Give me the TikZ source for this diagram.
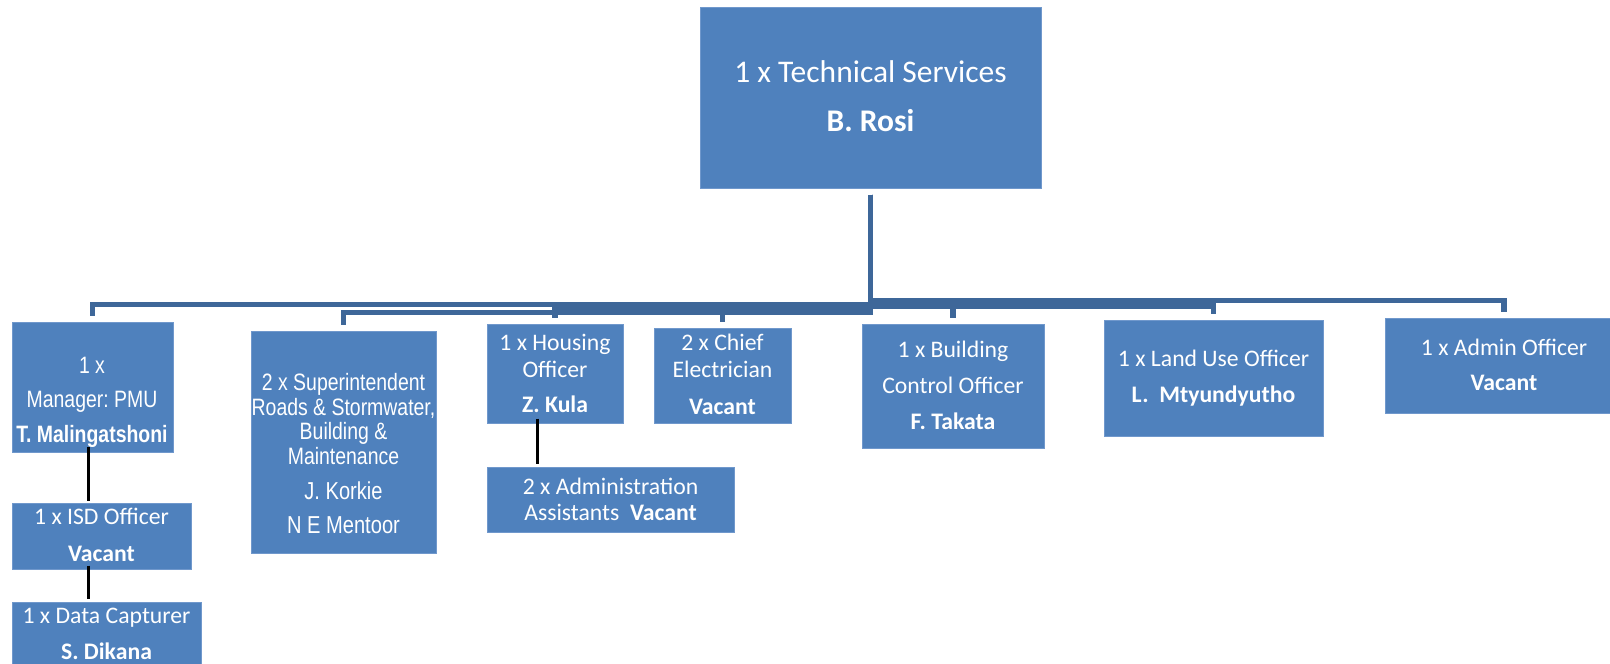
\documentclass[tikz,border=0pt]{standalone}
\usepackage{fontspec}
\setmainfont{Carlito}
\newfontfamily\narrowfont[FakeStretch=0.82]{Liberation Sans}
\usetikzlibrary{calc}
\definecolor{boxblue}{RGB}{79,129,189}
\definecolor{edgeblue}{RGB}{112,152,204}
\definecolor{connblue}{RGB}{62,103,153}
\frenchspacing
\begin{document}
\begin{tikzpicture}[x=1pt,y=-1pt,
  box/.style={fill=boxblue, draw=edgeblue, line width=1pt, inner sep=0pt},
  txt/.style={text=white, inner sep=0pt, anchor=base, font=\fontsize{23.7}{28}\selectfont},
  bigtxt/.style={txt, font=\fontsize{31.5}{36}\selectfont},
  nar/.style={txt, font=\narrowfont\fontsize{23.7}{28}\selectfont},
  narb/.style={txt, font=\narrowfont\fontsize{24.5}{28}\selectfont},
  conn/.style={draw=connblue, line width=5.5pt, shorten <=6pt, shorten >=6pt},
  blk/.style={draw=black, line width=3pt}]
\useasboundingbox (0,0) rectangle (1610,664);
\clip (0,0) rectangle (1610,664);

% boxes
\node[box, minimum width=341pt, minimum height=181pt] (root) at (870.5,97.5) {};
\node[box, minimum width=161pt, minimum height=130pt] (mgr) at (92.5,387) {};
\node[box, minimum width=179pt, minimum height=66pt] (isd) at (101.5,536) {};
\node[box, minimum width=189pt, minimum height=98pt] (data) at (106.5,651) {};
\node[box, minimum width=185pt, minimum height=222pt] (sup) at (343.5,442) {};
\node[box, minimum width=136pt, minimum height=99pt] (hous) at (555,373.5) {};
\node[box, minimum width=137pt, minimum height=95pt] (chief) at (722.5,375.5) {};
\node[box, minimum width=247pt, minimum height=65pt] (assist) at (610.5,499.5) {};
\node[box, minimum width=182pt, minimum height=124pt] (bldg) at (953,386) {};
\node[box, minimum width=219pt, minimum height=116pt] (land) at (1213.5,378) {};
\node[box, minimum width=238pt, minimum height=95pt] (admin) at (1504,365.5) {};

% level coordinates
\coordinate (Ladmin) at (0,300.5);
\coordinate (Lmgr) at (0,304.5);
\coordinate (Lbldg) at (0,304);
\coordinate (Lland) at (0,306);
\coordinate (Lhous) at (0,307);
\coordinate (Lchief) at (0,310);
\coordinate (Lsup) at (0,312.5);

% connectors from root
\draw[conn] (root.south) |- (mgr.north |- Lmgr) -- (mgr.north);
\draw[conn] (root.south) |- (sup.north |- Lsup) -- (sup.north);
\draw[conn] (root.south) |- (hous.north |- Lhous) -- (hous.north);
\draw[conn] (root.south) |- (chief.north |- Lchief) -- (chief.north);
\draw[conn] (root.south) |- (bldg.north |- Lbldg) -- (bldg.north);
\draw[conn] (root.south) |- (land.north |- Lland) -- (land.north);
\draw[conn] (root.south) |- (admin.north |- Ladmin) -- (admin.north);

% black connectors
\draw[blk] ($(mgr.south)+(-4.5,-6)$) -- ($(mgr.south |- isd.north)+(-4.5,-2)$);
\draw[blk] ($(isd.south)+(-13.5,-4)$) -- ($(isd.south |- data.north)+(-13.5,-3)$);
\draw[blk] ($(hous.south)+(-18,-5)$) -- ($(hous.south |- assist.north)+(-18,-3)$);

% texts
\node[bigtxt] (rootA) at (870.5,82) {1 x Technical Services};
\node[bigtxt] (rootB) at (870.5,131) {\bfseries B. Rosi};

\node[nar] (mgrA) at (92,373.5) {1 x};
\node[nar] (mgrB) at (92,407.5) {Manager: PMU};
\node[nar] (mgrC) at (92,442.5) {\bfseries T. Malingatshoni};

\node[txt] (isdA) at (101.5,524) {1 x ISD Officer};
\node[txt] (isdB) at (101.5,561) {\bfseries Vacant};

\node[txt] (dataA) at (106.5,623) {1 x Data Capturer};
\node[txt] (dataB) at (106.5,659) {\bfseries S. Dikana};

\node[nar] (supA) at (343.5,390) {2 x Superintendent};
\node[nar] (supB) at (343.5,415) {Roads \& Stormwater,};
\node[nar] (supC) at (343.5,439) {Building \&};
\node[nar] (supD) at (343.5,464) {Maintenance};
\node[narb] (supE) at (343.5,499) {J. Korkie};
\node[narb] (supF) at (343.5,533) {N E Mentoor};

\node[txt] (housA) at (555,350) {1 x Housing};
\node[txt] (housB) at (555,377) {Officer};
\node[txt] (housC) at (555,412) {\bfseries Z. Kula};

\node[txt] (chiefA) at (722.5,350) {2 x Chief};
\node[txt] (chiefB) at (722.5,377) {Electrician};
\node[txt] (chiefC) at (722.5,414) {\bfseries Vacant};

\node[txt] (assistA) at (610.5,494) {2 x Administration};
\node[txt] (assistB) at (610.5,520) {Assistants\ \ \textbf{Vacant}};

\node[txt] (bldgA) at (953,357) {1 x Building};
\node[txt] (bldgB) at (953,393) {Control Officer};
\node[txt] (bldgC) at (953,429) {\bfseries F. Takata};

\node[txt] (landA) at (1213.5,366) {1 x Land Use Officer};
\node[txt] (landB) at (1213.5,402) {\bfseries L.\ \ Mtyundyutho};

\node[txt] (adminA) at (1504,355) {1 x Admin Officer};
\node[txt] (adminB) at (1504,390) {\bfseries Vacant};
\end{tikzpicture}
\end{document}
